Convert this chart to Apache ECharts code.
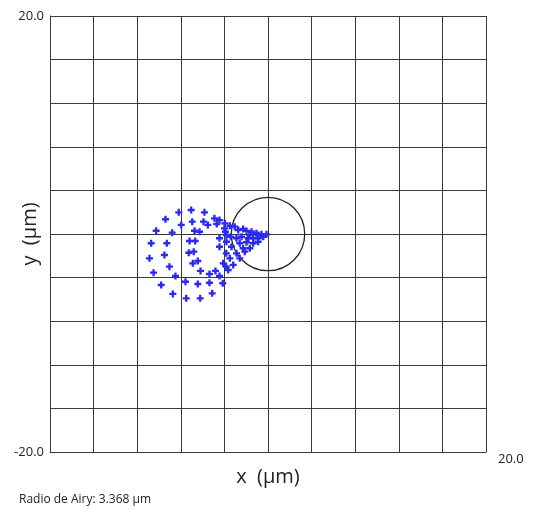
<!DOCTYPE html>
<html>
<head>
<meta charset="utf-8">
<script src="https://cdn.jsdelivr.net/npm/echarts@6/dist/echarts.min.js"></script>
<style>
html, body { margin: 0; padding: 0; background: #fff; }
#spot { width: 534px; height: 510px; }
</style>
</head>
<body>
<div id="spot"></div>
<script>
// limites del diagrama (um)
var axisMin = -20;
var axisMax = 20;
var axisStep = 4;

// radio de Airy (um), circulo centrado en el origen
var airyRadius = 3.368;
var airyCenter = [0, 0];

var spotX = [
  -8.19, -7.05, -5.83, -9.40, -7.96, -6.95, -5.92, -5.52, -4.91, -4.70,
  -4.45, -3.99, -10.26, -8.79, -6.74, -6.28, -3.90, -7.20, -6.68, -4.45,
  -10.72, -9.28, -7.27, -6.81, -4.45, -3.83, -10.87, -9.50, -6.44, -6.90,
  -9.04, -3.83, -6.19, -4.82, -5.37, -10.50, -8.49, -4.45, -7.57, -6.44,
  -5.37, -9.80, -8.73, -7.50, -6.22, -5.12, -4.15,
  -3.96, -3.50, -3.05, -2.73, -2.28, -1.97, -1.51, -1.06, -0.60, -0.14,
  -0.44, -0.90, -1.36, -1.82, -2.43, -2.89, -3.41, -3.81, -2.59, -1.97,
  -1.36, -0.90, -3.35, -2.28, -1.67, -2.89, -2.13, -3.50, -2.59, -4.11,
  -3.19, -3.65, -0.90, -1.70, -3.81
];
var spotY = [
  1.99, 2.20, 1.99, 1.35, 0.83, 1.13, 1.13, 0.83, 1.44, 0.92,
  1.28, 0.52, 0.30, 0.12, 0.30, 0.21, 0.21, -0.64, -0.64, -0.39,
  -0.85, -0.85, -1.72, -1.62, -1.17, -1.77, -2.23, -1.93, -2.48, -2.69,
  -3.00, -3.00, -3.39, -3.39, -3.67, -3.55, -3.85, -3.85, -4.38, -4.59,
  -4.47, -4.68, -5.50, -5.90, -5.90, -5.44, -4.52,
  0.98, 0.76, 0.67, 0.37, 0.46, 0.28, 0.21, 0.06, -0.03, -0.03,
  -0.25, -0.39, -0.39, -0.39, -0.25, -0.39, -0.25, -0.71, -0.85, -0.76,
  -0.85, -0.71, -1.17, -1.31, -1.31, -1.77, -1.62, -2.23, -2.23, -2.69,
  -2.84, -3.30, -0.09, -0.09, -0.09
];

var spotData = spotX.map(function (x, i) { return [x, spotY[i]]; });

var chart = echarts.init(document.getElementById('spot'));

var gridLine = { show: true, lineStyle: { color: '#3a3a3a', width: 1 } };

var option = {
  backgroundColor: '#fff',
  animation: false,
  title: {
    text: 'Radio de Airy: 3.368 \u00b5m',
    left: 14,
    top: 489,
    textStyle: { fontFamily: 'Open Sans', fontSize: 12, fontWeight: 'normal', color: '#222' }
  },
  grid: { left: 50, top: 16, width: 436, height: 436, containLabel: false, outerBoundsMode: 'none' },
  xAxis: {
    type: 'value',
    min: axisMin,
    max: axisMax,
    interval: axisStep,
    name: 'x  (\u00b5m)',
    nameLocation: 'middle',
    nameGap: 15,
    nameMoveOverlap: false,
    nameTextStyle: { fontFamily: 'Open Sans', fontSize: 20, color: '#222' },
    axisLine: { show: true, onZero: false, lineStyle: { color: '#3a3a3a' } },
    axisTick: { show: false },
    splitLine: gridLine,
    axisLabel: {
      fontFamily: 'Open Sans',
      fontSize: 13,
      color: '#222',
      align: 'left',
      padding: [0, 0, 0, 12],
      margin: 1,
      formatter: function (v) { return v === axisMax ? v.toFixed(1) : ''; }
    }
  },
  yAxis: {
    type: 'value',
    min: axisMin,
    max: axisMax,
    interval: axisStep,
    name: 'y  (\u00b5m)',
    nameLocation: 'middle',
    nameGap: 10,
    nameRotate: 90,
    nameMoveOverlap: false,
    nameTextStyle: { fontFamily: 'Open Sans', fontSize: 20, color: '#222' },
    axisLine: { show: true, onZero: false, lineStyle: { color: '#3a3a3a' } },
    axisTick: { show: false },
    splitLine: gridLine,
    axisLabel: {
      fontFamily: 'Open Sans',
      fontSize: 13,
      color: '#222',
      margin: 6,
      formatter: function (v) { return (v === axisMin || v === axisMax) ? v.toFixed(1) : ''; }
    }
  },
  series: [
    {
      type: 'custom',
      silent: true,
      data: [[airyCenter[0], airyCenter[1], airyRadius]],
      renderItem: function (params, api) {
        var c = api.coord([api.value(0), api.value(1)]);
        var r = api.size([api.value(2), 0])[0];
        return {
          type: 'circle',
          shape: { cx: c[0], cy: c[1], r: r },
          style: { fill: 'none', stroke: '#222', lineWidth: 1.3 }
        };
      },
      z: 3
    },
    {
      type: 'scatter',
      data: spotData,
      symbol: 'path://M2,0H4V2H6V4H4V6H2V4H0V2H2Z',
      symbolSize: 7,
      itemStyle: { color: '#2a2af2', opacity: 1 },
      z: 4
    }
  ]
};

chart.setOption(option);
</script>
</body>
</html>
